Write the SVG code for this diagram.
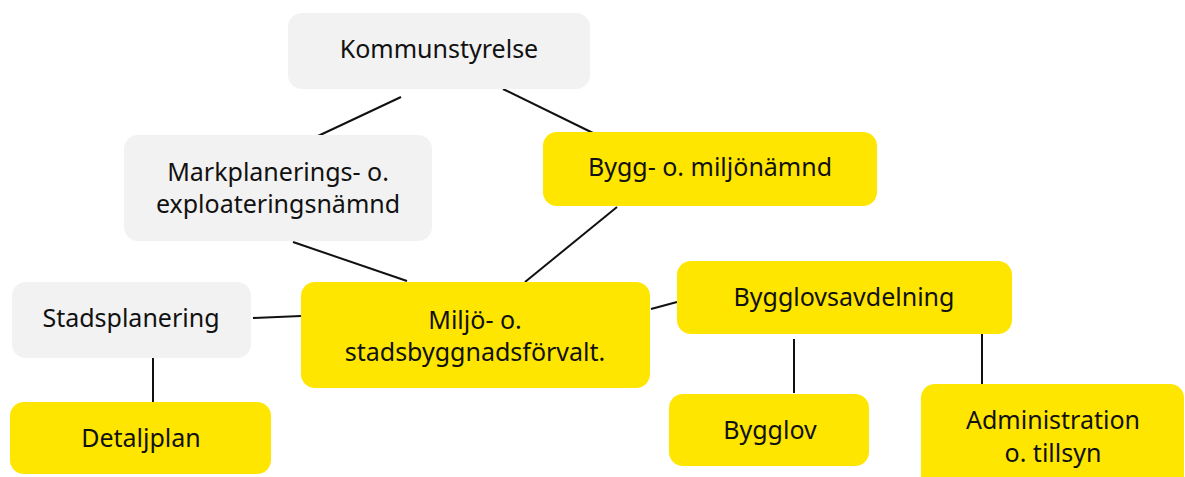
<svg xmlns="http://www.w3.org/2000/svg" width="1185" height="477" viewBox="0 0 1185 477">
<style>
.g{fill:#f2f2f2}
.y{fill:#ffe600}
text{font-family:"Noto Sans","Liberation Sans",sans-serif;font-size:25px;fill:#111;text-anchor:middle;dominant-baseline:central}
.c line{stroke:#111;stroke-width:2}
</style>
<rect width="1185" height="477" fill="#fff"/>
<g class="c" id="connectors">
<line x1="401" y1="97" x2="318" y2="136"/>
<line x1="503" y1="89" x2="593" y2="133"/>
<line x1="293" y1="242" x2="407" y2="281"/>
<line x1="617" y1="207" x2="525" y2="282"/>
<line x1="253" y1="318" x2="301" y2="316"/>
<line x1="153" y1="358" x2="153" y2="402"/>
<line x1="651" y1="309" x2="677" y2="302"/>
<line x1="794" y1="339" x2="794" y2="393"/>
<line x1="982" y1="331" x2="982" y2="386"/>
</g>
<g id="kommunstyrelse"><rect class="g" x="288" y="13" width="302" height="76" rx="14"/><text x="439" y="48">Kommunstyrelse</text></g>
<g id="markplanering"><rect class="g" x="124" y="135" width="308" height="106" rx="14"/><text x="278" y="171">Markplanerings- o.</text><text x="278" y="203">exploateringsnämnd</text></g>
<g id="bygg-miljonamnd"><rect class="y" x="543" y="132" width="334" height="74" rx="14"/><text x="710" y="166">Bygg- o. miljönämnd</text></g>
<g id="stadsplanering"><rect class="g" x="12" y="282" width="239" height="76" rx="14"/><text x="131" y="317">Stadsplanering</text></g>
<g id="miljo-forvalt"><rect class="y" x="301" y="282" width="349" height="106" rx="14"/><text x="475" y="319">Miljö- o.</text><text x="475" y="351">stadsbyggnadsförvalt.</text></g>
<g id="bygglovsavdelning"><rect class="y" x="677" y="261" width="335" height="73" rx="14"/><text x="844" y="296">Bygglovsavdelning</text></g>
<g id="detaljplan"><rect class="y" x="10" y="402" width="261" height="72" rx="14"/><text x="141" y="437">Detaljplan</text></g>
<g id="bygglov"><rect class="y" x="669" y="394" width="200" height="72" rx="14"/><text x="770" y="429">Bygglov</text></g>
<g id="administration"><rect class="y" x="921" y="384" width="263" height="110" rx="14"/><text x="1053" y="419">Administration</text><text x="1053" y="452">o. tillsyn</text></g>
</svg>
